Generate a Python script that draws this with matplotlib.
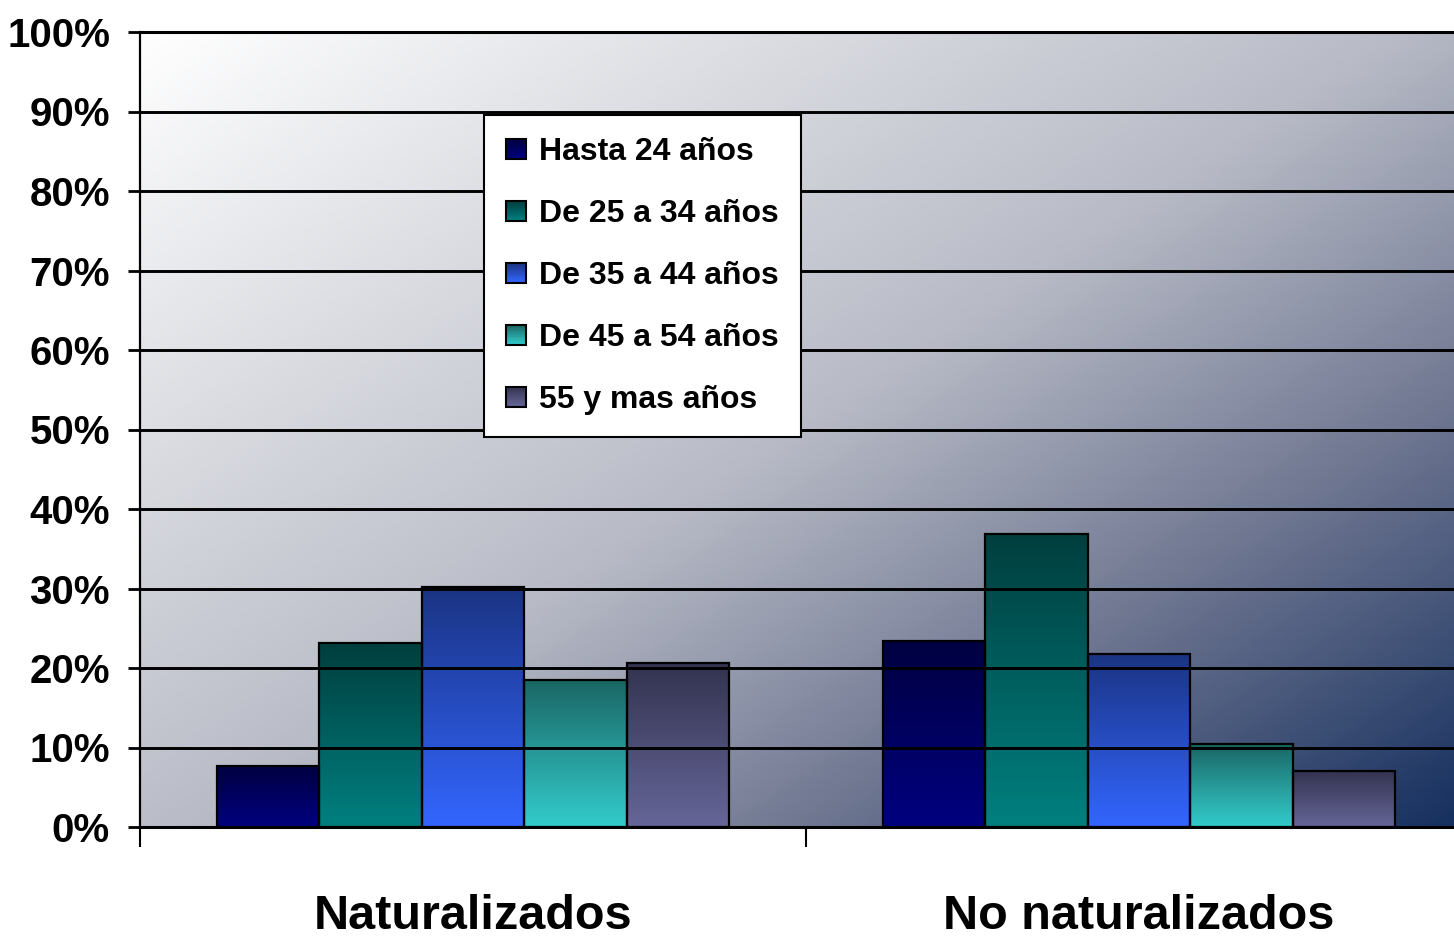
import numpy as np
import matplotlib
matplotlib.use("Agg")
import matplotlib.pyplot as plt
from matplotlib.colors import LinearSegmentedColormap, to_rgb
from matplotlib.patches import Rectangle
from matplotlib.legend_handler import HandlerBase

# data (percent)
categories = ["Naturalizados", "No naturalizados"]
age_groups = ["Hasta 24 años", "De 25 a 34 años", "De 35 a 44 años",
              "De 45 a 54 años", "55 y mas años"]
naturalizados = [7.7, 23.1, 30.2, 18.5, 20.6]
no_naturalizados = [23.4, 36.9, 21.8, 10.4, 7.0]
y_ticks = [0, 10, 20, 30, 40, 50, 60, 70, 80, 90, 100]

base_colors = ["#000080", "#008080", "#3366ff", "#33cccc", "#666699"]
top_colors = ["#000040", "#003e3e", "#1a3382", "#1a6664", "#333350"]

plt.rcParams["font.family"] = ["Liberation Sans", "DejaVu Sans"]
plt.rcParams["font.weight"] = "bold"


class GradientKey:
    def __init__(self, top, bottom):
        self.top = top
        self.bottom = bottom


class GradientHandler(HandlerBase):
    # legend key drawn as a small square with the same vertical gradient as the bars
    def create_artists(self, legend, orig_handle, xdescent, ydescent,
                       width, height, fontsize, trans):
        n = 12
        c_top = np.array(to_rgb(orig_handle.top))
        c_bot = np.array(to_rgb(orig_handle.bottom))
        x0, y0 = -xdescent, -ydescent
        artists = []
        for k in range(n):
            f = k / (n - 1)
            col = c_top * (1 - f) + c_bot * f
            r = Rectangle((x0, y0 + height * (1 - (k + 1) / n)), width, height / n,
                          facecolor=col, edgecolor="none", transform=trans)
            artists.append(r)
        artists.append(Rectangle((x0, y0), width, height, fill=False,
                                 edgecolor="black", linewidth=1.5, transform=trans))
        return artists


def vertical_gradient(top, bottom, n=256):
    c_top = np.array(to_rgb(top))
    c_bot = np.array(to_rgb(bottom))
    f = np.linspace(0, 1, n)[:, None]
    return (c_top * (1 - f) + c_bot * f)[:, None, :]


fig = plt.figure(figsize=(14.54, 9.40), dpi=100)
ax = fig.add_axes([140 / 1454, 113 / 940, 1314 / 1454, 795 / 940])

# background gradient (light top-left to dark navy bottom-right)
bg_cmap = LinearSegmentedColormap.from_list(
    "bg", [(0, "#ffffff"), (0.5, "#b8bbc6"), (0.75, "#6d7590"), (1, "#16305f")])
u = np.linspace(0, 1, 400)[None, :]
v = np.linspace(0, 1, 400)[:, None]
t = 0.52 * u + 0.48 * v
ax.imshow(t, cmap=bg_cmap, extent=(0, 1, 0, 1), transform=ax.transAxes,
          aspect="auto", zorder=0, origin="upper", vmin=0, vmax=1)

bar_w = 0.154
x = np.arange(len(categories))
values = np.array([naturalizados, no_naturalizados])
for i, label in enumerate(age_groups):
    pos = x + (i - 2) * bar_w
    bars = ax.bar(pos, values[:, i], width=bar_w, facecolor="none",
                  edgecolor="black", linewidth=1.6, zorder=3)
    for b in bars:
        x0, w, h = b.get_x(), b.get_width(), b.get_height()
        ax.imshow(vertical_gradient(top_colors[i], base_colors[i]),
                  extent=(x0, x0 + w, 0, h), aspect="auto", zorder=2)

ax.set_xlim(-0.5, -0.5 + 1314 / 666)
ax.set_ylim(0, 100)

ax.set_yticks(y_ticks)
ax.set_yticklabels([f"{v}%" for v in y_ticks])
ax.tick_params(axis="y", length=8.6, width=2, pad=13, labelsize=29)
ax.yaxis.grid(True, color="black", linewidth=2.1)
ax.set_axisbelow(False)
for gl in ax.get_ygridlines():
    gl.set_zorder(1)

ax.set_xticks([-0.5, 0.5])
ax.set_xticklabels(["", ""])
ax.tick_params(axis="x", which="major", length=14.4, width=1.5)
ax.set_xticks([0, 1], minor=True)
ax.set_xticklabels(categories, minor=True)
ax.tick_params(axis="x", which="minor", length=0, pad=48, labelsize=35)

ax.spines["right"].set_visible(False)
ax.spines["top"].set_linewidth(2.2)
ax.spines["bottom"].set_linewidth(2.2)
ax.spines["left"].set_linewidth(1.6)
for s in ax.spines.values():
    s.set_zorder(4)

keys = [GradientKey(top_colors[i], base_colors[i]) for i in range(len(age_groups))]
leg = ax.legend(keys, age_groups, handler_map={GradientKey: GradientHandler()},
                loc="upper left", bbox_to_anchor=(344 / 1314, 712 / 795),
                borderaxespad=0, fontsize=23, frameon=True, fancybox=False,
                edgecolor="black", framealpha=1, handlelength=0.62,
                handleheight=0.62, handletextpad=0.4, labelspacing=1.0,
                borderpad=0.7)
leg.get_frame().set_linewidth(1.5)
leg.set_zorder(5)

fig.savefig("out.png", dpi=100)
